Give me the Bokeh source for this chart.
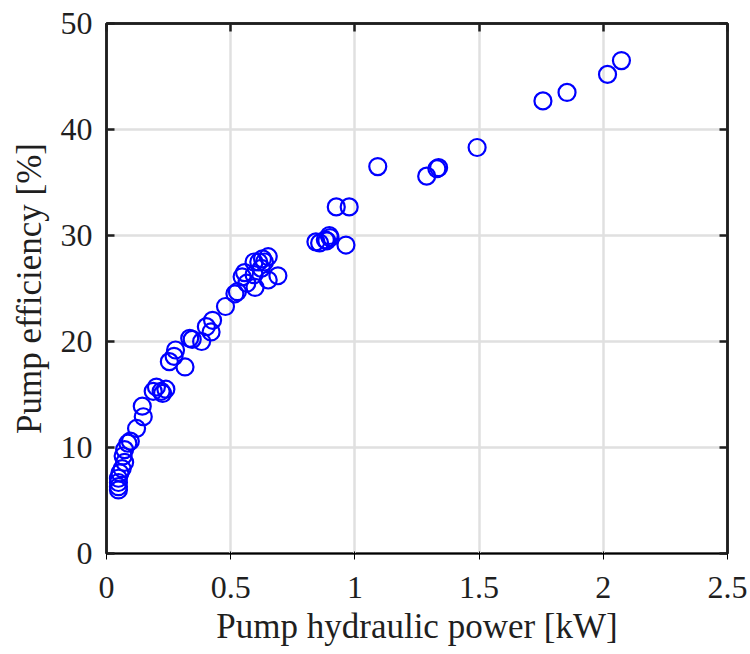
from bokeh.plotting import figure
from bokeh.models import LinearAxis, Range1d, FixedTicker, ColumnDataSource
from bokeh.embed import file_html
from bokeh.resources import INLINE

power_kw = [2.073, 2.017, 1.854, 1.757, 1.492, 1.337, 1.330, 1.289, 1.092,
            0.925, 0.977, 0.964, 0.843, 0.858, 0.881, 0.897, 0.887, 0.900,
            0.690, 0.651, 0.628, 0.613, 0.594, 0.636, 0.623, 0.594, 0.651, 0.598,
            0.556, 0.546, 0.565, 0.517, 0.527, 0.479, 0.427, 0.402, 0.421, 0.383,
            0.335, 0.345, 0.316, 0.278, 0.272, 0.253, 0.239, 0.220, 0.201, 0.188,
            0.226, 0.144, 0.148, 0.121, 0.096, 0.086, 0.073, 0.067, 0.073, 0.063,
            0.054, 0.048, 0.048, 0.048, 0.048]
efficiency_pct = [46.5, 45.2, 43.5, 42.7, 38.3, 36.4, 36.3, 35.6, 36.5,
                  32.7, 32.7, 29.1, 29.4, 29.3, 29.6, 30.0, 29.5, 29.8,
                  26.2, 28.0, 27.8, 27.5, 27.5, 27.5, 26.9, 26.3, 25.8, 25.1,
                  26.5, 26.1, 25.5, 24.5, 24.7, 23.3, 22.0, 21.4, 20.9, 20.0,
                  20.3, 20.2, 17.6, 19.2, 18.6, 18.1, 15.5, 15.3, 15.7, 15.3,
                  15.1, 13.9, 12.9, 11.8, 10.6, 10.4, 9.8, 9.2, 8.6, 8.0,
                  7.6, 7.1, 6.7, 6.3, 6.0]

x_ticks = [0, 0.5, 1, 1.5, 2, 2.5]
y_ticks = [0, 10, 20, 30, 40, 50]
x_label = "Pump hydraulic power [kW]"
y_label = "Pump efficiency [%]"

FONT = "Liberation Serif"
AX = "#1f1f1f"

p = figure(width=750, height=654, output_backend="svg", toolbar_location=None,
           x_range=Range1d(0, 2.5), y_range=Range1d(0, 50),
           min_border_left=106, min_border_right=23, min_border_top=23,
           min_border_bottom=101, background_fill_color="white",
           border_fill_color="white")

p.outline_line_color = AX
p.outline_line_width = 2.5

p.xgrid.ticker = FixedTicker(ticks=x_ticks)
p.ygrid.ticker = FixedTicker(ticks=y_ticks)
p.grid.grid_line_color = "#e0e0e0"
p.grid.grid_line_width = 2.5

src = ColumnDataSource(dict(x=power_kw, y=efficiency_pct))
p.scatter("x", "y", source=src, marker="circle", size=17, fill_color=None,
          line_color="#0000ff", line_width=2.2)

for ax in (p.xaxis[0], p.yaxis[0]):
    ax.major_label_text_font = FONT
    ax.major_label_text_font_size = "32px"
    ax.major_label_text_color = AX
    ax.axis_label_text_font = FONT
    ax.axis_label_text_font_size = "35px"
    ax.axis_label_text_font_style = "normal"
    ax.axis_label_text_color = AX

p.xaxis[0].ticker = FixedTicker(ticks=x_ticks)
p.yaxis[0].ticker = FixedTicker(ticks=y_ticks)
p.xaxis[0].axis_label = x_label
p.yaxis[0].axis_label = y_label
p.xaxis[0].major_label_standoff = 17
p.xaxis[0].axis_label_standoff = 6
p.yaxis[0].major_label_standoff = 14
p.yaxis[0].axis_label_standoff = 9

# box-style axes: inward ticks on the top and right edges, no labels drawn
top = LinearAxis(ticker=FixedTicker(ticks=x_ticks), major_label_text_color=None,
                 major_label_text_font_size="0px", major_label_standoff=0,
                 axis_label_standoff=0)
right = LinearAxis(ticker=FixedTicker(ticks=y_ticks), major_label_text_color=None,
                   major_label_text_font_size="0px", major_label_standoff=0,
                   axis_label_standoff=0)
p.add_layout(top, "above")
p.add_layout(right, "right")

for ax in (p.xaxis[0], p.yaxis[0], top, right):
    ax.axis_line_color = AX
    ax.axis_line_width = 2.5
    ax.major_tick_line_color = AX
    ax.major_tick_line_width = 2.5
    ax.major_tick_in = 8
    ax.major_tick_out = 0
    ax.minor_tick_line_color = None

open("out.html", "w").write(file_html(p, INLINE))
